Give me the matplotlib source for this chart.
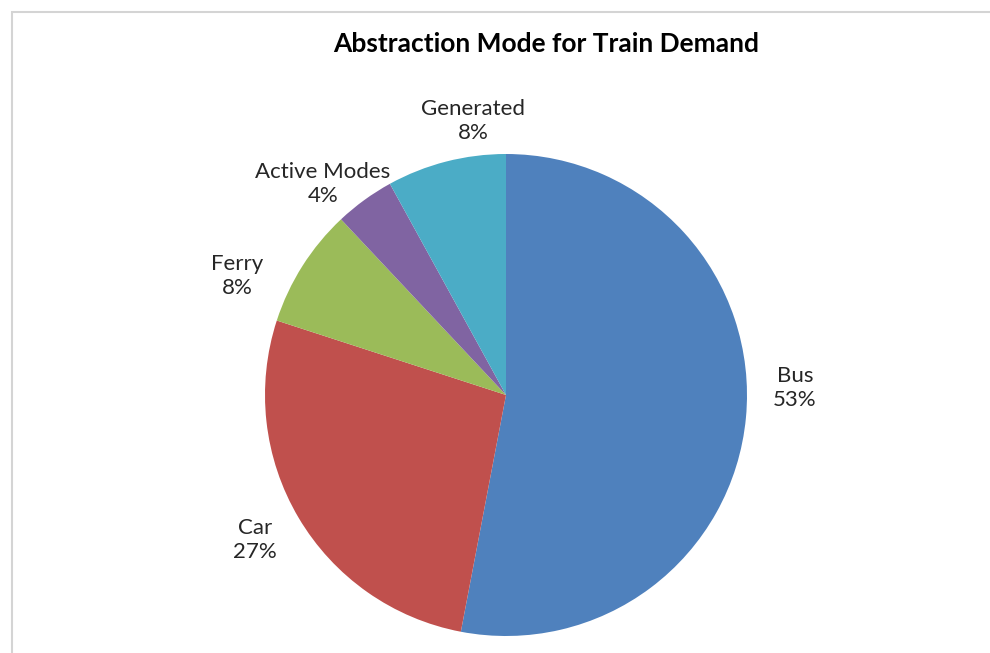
import matplotlib
matplotlib.use("Agg")
import matplotlib.pyplot as plt
from matplotlib.patches import Rectangle

plt.rcParams['font.family'] = ['Lato', 'DejaVu Sans']

# Daten
modes = ['Bus', 'Car', 'Ferry', 'Active Modes', 'Generated']
shares = [53, 27, 8, 4, 8]
colors = ['#4F81BD', '#C0504D', '#9BBB59', '#8064A2', '#4BACC6']
title = 'Abstraction Mode for Train Demand'

W, H = 990, 653
fig = plt.figure(figsize=(W / 100, H / 100), dpi=100)
ax = fig.add_axes([0, 0, 1, 1])

# Torte, im Uhrzeigersinn ab 12 Uhr (wie Excel)
cx, cy, r = 506, H - 395, 241
wedges, texts = ax.pie(shares, colors=colors, startangle=90, counterclock=False,
                       center=(cx, cy), radius=r, labels=None,
                       wedgeprops=dict(linewidth=0))
ax.set_xlim(0, W)
ax.set_ylim(0, H)
ax.set_aspect('equal')
ax.axis('off')

# Beschriftungen (Position wie in Excel "best fit")
label_pos = [(795, 388), (255, 540), (237, 276), (323, 184), (473, 121)]
for name, val, (lx, ly) in zip(modes, shares, label_pos):
    ax.text(lx, H - ly, '{}\n{}%'.format(name, val), ha='center', va='center',
            fontsize=16, color='#262626', linespacing=1.3)

ax.text(546, H - 44, title, ha='center', va='center', fontsize=19,
        fontweight='bold', color='black')

# Rahmen des Diagrammbereichs
fig.patches.append(Rectangle((12 / W, -0.1), 1.1, (H - 12.5) / H + 0.1,
                             transform=fig.transFigure, fill=False,
                             edgecolor='#d4d4d4', linewidth=1.5))

fig.savefig('out.png', dpi=100)
